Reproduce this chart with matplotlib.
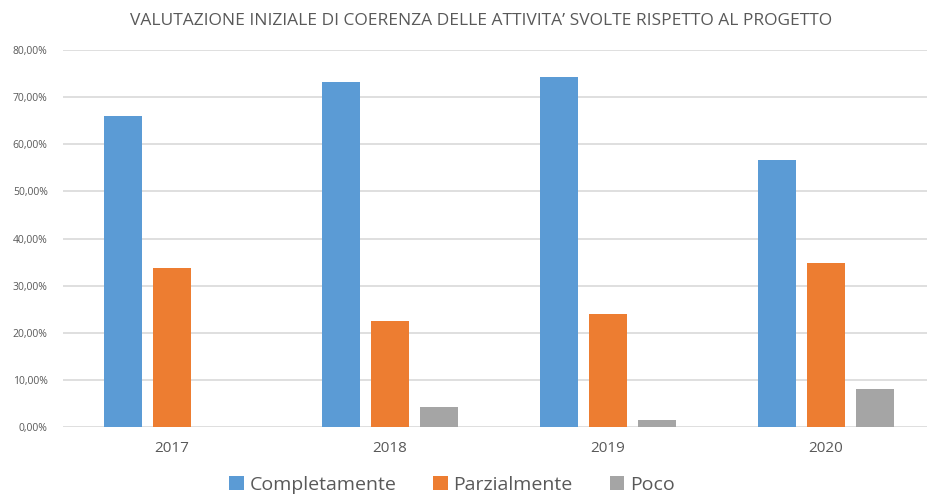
import matplotlib.pyplot as plt
import numpy as np

# data (percent)
anni = ["2017", "2018", "2019", "2020"]
completamente = [66.0, 73.2, 74.2, 56.7]
parzialmente = [33.8, 22.4, 23.9, 34.8]
poco = [0.0, 4.2, 1.5, 8.0]
y_ticks = [0, 10, 20, 30, 40, 50, 60, 70, 80]

titolo = "VALUTAZIONE INIZIALE DI COERENZA DELLE ATTIVITA\u2019 SVOLTE RISPETTO AL PROGETTO"

plt.rcParams['font.family'] = ['Open Sans', 'DejaVu Sans']
testo = '#595959'

fig = plt.figure(figsize=(9.28, 4.96), dpi=100)
ax = fig.add_axes([63/928, (496-427)/496, (928-63)/928, (427-50)/496])

x = np.arange(len(anni))
w = 0.174
off = 0.225
ax.bar(x - off, completamente, w, color='#5B9BD5', label='Completamente', zorder=3)
ax.bar(x, parzialmente, w, color='#ED7D31', label='Parzialmente', zorder=3)
ax.bar(x + off, poco, w, color='#A5A5A5', label='Poco', zorder=3)

ax.set_xlim(-0.5, 3.468)
ax.set_ylim(0, 80)
ax.set_yticks(y_ticks)
ax.set_yticklabels([("%.2f" % v).replace('.', ',') + "%" for v in y_ticks],
                   fontsize=7.5, color=testo)
ax.set_xticks(x)
ax.set_xticklabels(anni, fontsize=11, color=testo)
ax.tick_params(axis='both', length=0)
ax.tick_params(axis='x', pad=10)
ax.tick_params(axis='y', pad=11)
ax.grid(axis='y', color='#D9D9D9', linewidth=1.2, zorder=0)
for s in ax.spines.values():
    s.set_visible(False)

fig.text(0.518, 0.958, titolo, ha='center', va='center', fontsize=12.5, color=testo)

leg = fig.legend(loc='center', bbox_to_anchor=(0.487, 0.022), ncol=3, frameon=False,
                 fontsize=14, handlelength=0.75, handleheight=0.75, handletextpad=0.3,
                 columnspacing=1.9)
for t in leg.get_texts():
    t.set_color(testo)

fig.savefig("out.png", dpi=100)
